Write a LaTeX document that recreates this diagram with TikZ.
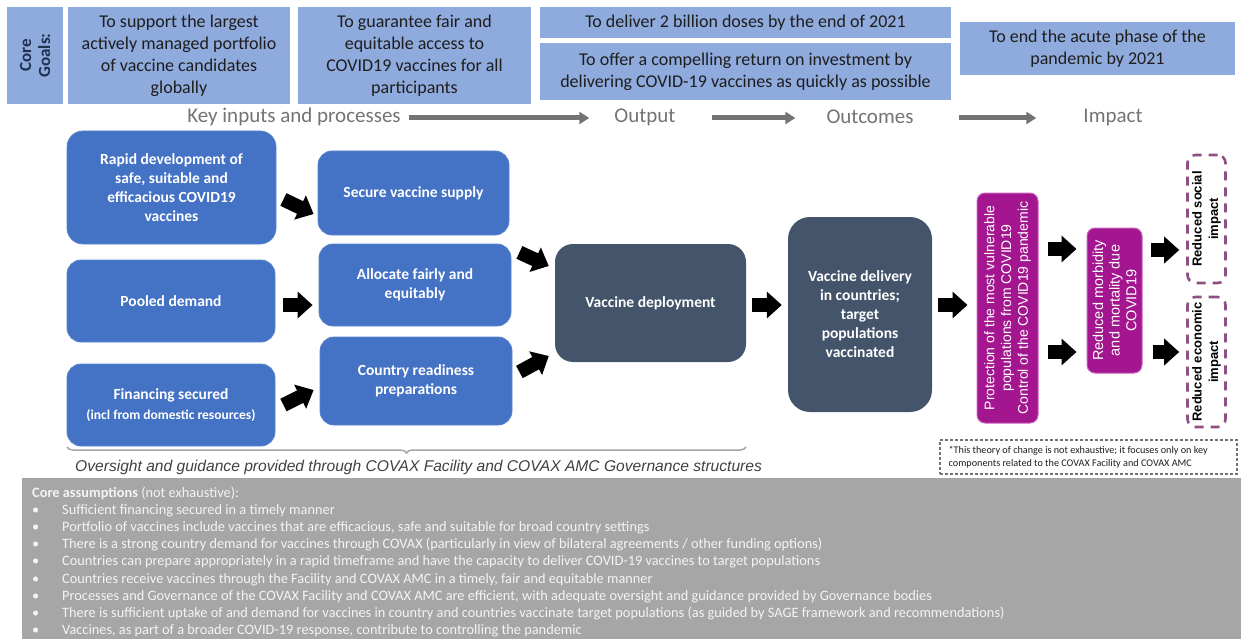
\documentclass[tikz,border=0pt]{standalone}
\usepackage{fontspec}
\setmainfont{Carlito}
\newfontfamily\arialfont{Liberation Sans}
\usetikzlibrary{arrows.meta,decorations.pathreplacing,calc}
\definecolor{goalblue}{HTML}{8FAADC}
\definecolor{boxblue}{HTML}{4472C4}
\definecolor{boxedge}{HTML}{5A84CF}
\definecolor{slate}{HTML}{44546A}
\definecolor{purp}{HTML}{A3168F}
\definecolor{purpedge}{HTML}{C860BC}
\definecolor{dashpurp}{HTML}{8E4F82}
\definecolor{hdrgray}{HTML}{737373}
\definecolor{asmgray}{HTML}{A6A6A6}
\definecolor{asmtext}{HTML}{F4F4F4}
\definecolor{navy}{HTML}{1F2F4F}
\definecolor{goaltext}{HTML}{1E1E1E}
\definecolor{ovtext}{HTML}{404040}
\begin{document}
\begin{tikzpicture}[x=1pt,y=-1pt,
  goal/.style={fill=goalblue, inner sep=0pt, align=center, text=goaltext,
    font=\fontsize{18}{22}\selectfont},
  bluebox/.style={fill=boxblue, draw=boxedge, line width=0.8pt, rounded corners=14pt,
    inner sep=0pt, align=center, text=white, font=\fontsize{15.5}{19}\selectfont\bfseries},
  slatebox/.style={fill=slate, rounded corners=18pt, inner sep=0pt, align=center,
    text=white, font=\fontsize{15.5}{19}\selectfont\bfseries},
  purpbox/.style={fill=purp, draw=purpedge, line width=1pt, rounded corners=8pt, inner sep=0pt},
  purptext/.style={rotate=90, align=center, text=white, inner sep=0pt,
    font=\arialfont\fontsize{14}{16.7}\selectfont},
  impactbox/.style={draw=dashpurp, line width=2.6pt, dash pattern=on 9pt off 7pt,
    rounded corners=8pt, inner sep=0pt},
  impacttext/.style={rotate=90, align=center, text=black, inner sep=0pt,
    font=\arialfont\bfseries\fontsize{13}{16.5}\selectfont},
  blk/.style={line width=14pt, black, -{Triangle[length=15pt,width=26pt]}},
  hdr/.style={font=\fontsize{21}{24}\selectfont, text=hdrgray, inner sep=0pt},
  hdrarrow/.style={line width=5pt, hdrgray, -{Triangle[length=10pt,width=12pt]}},
  asmline/.style={anchor=base west, inner sep=0pt, text=asmtext, font=\fontsize{14.35}{17}\selectfont}
]
\useasboundingbox (0,0) rectangle (1241,639);

% ---------- core goals ----------
\node[goal, minimum width=56pt, minimum height=97pt] (core) at (35,55.5) {};
\node[rotate=90, align=center, inner sep=0pt, text=navy,
  font=\fontsize{17}{19}\selectfont\bfseries] (coretext) at (core.center) {Core\\Goals:};
\node[goal, minimum width=222pt, minimum height=97pt] (g1) at (179,55.5)
  {To support the largest\\actively managed portfolio\\of vaccine candidates\\globally};
\node[goal, minimum width=233pt, minimum height=97pt] (g2) at (414.5,55.5)
  {To guarantee fair and\\equitable access to\\COVID19 vaccines for all\\participants};
\node[goal, minimum width=411pt, minimum height=31pt] (g3a) at (745.5,22.5)
  {To deliver 2 billion doses by the end of 2021};
\node[goal, minimum width=411pt, minimum height=57pt] (g3b) at (745.5,71.5)
  {To offer a compelling return on investment by\\delivering COVID-19 vaccines as quickly as possible};
\node[goal, minimum width=275pt, minimum height=53pt] (g4) at (1097.5,48.5)
  {To end the acute phase of the\\pandemic by 2021};

% ---------- header row ----------
\node[hdr] (hkey) at (294,117) {Key inputs and processes};
\node[hdr] (hout) at (645,117) {Output};
\node[hdr] (hoc) at (870,117) {Outcomes};
\node[hdr] (himp) at (1113,117) {Impact};
\draw[hdrarrow] ([xshift=8pt,yshift=-1pt]hkey.east) -- ([xshift=-25pt,yshift=-1pt]hout.west);
\draw[hdrarrow] ([xshift=36pt,yshift=-1pt]hout.east) -- ([xshift=-31pt,yshift=-1pt]hoc.west);
\draw[hdrarrow] ([xshift=45pt,yshift=-1pt]hoc.east) -- ([xshift=-47pt,yshift=-1pt]himp.west);

% ---------- inputs ----------
\node[bluebox, rounded corners=16pt, minimum width=209pt, minimum height=113pt] (A) at (171.5,187.5)
  {Rapid development of\\safe, suitable and\\efficacious COVID19\\vaccines};
\node[bluebox, minimum width=208pt, minimum height=82pt] (B) at (171,301) {Pooled demand};
\node[bluebox, minimum width=208pt, minimum height=82pt] (C) at (171,405)
  {Financing secured\\[1pt]{\fontsize{13.5}{17}\selectfont (incl from domestic resources)}};

% ---------- processes ----------
\node[bluebox, minimum width=191pt, minimum height=84pt] (D) at (413.5,193) {Secure vaccine supply};
\node[bluebox, minimum width=192pt, minimum height=82pt] (E) at (415,285) {Allocate fairly and\\equitably};
\node[bluebox, minimum width=192pt, minimum height=88pt] (F) at (416,381) {Country readiness\\preparations};

% ---------- output / outcomes ----------
\node[slatebox, minimum width=191pt, minimum height=118pt] (G) at (650.5,303) {Vaccine deployment};
\node[slatebox, rounded corners=22pt, minimum width=144pt, minimum height=195pt] (H) at (860,314.5)
  {Vaccine delivery\\in countries;\\target\\populations\\vaccinated};
\node[purpbox, minimum width=61pt, minimum height=230pt] (I) at (1007.5,308) {};
\node[purptext] (Itext) at (I.center)
  {Protection of the most vulnerable\\populations from COVID19\\Control of the COVID19 pandemic};
\node[purpbox, minimum width=55pt, minimum height=145pt] (J) at (1114.5,300.5) {};
\node[purptext, font=\arialfont\fontsize{14.5}{16.7}\selectfont] (Jtext) at (J.center)
  {Reduced morbidity\\and mortality due\\COVID19};

% ---------- impact ----------
\node[impactbox, minimum width=38pt, minimum height=128pt] (K1) at (1206.5,219) {};
\node[impacttext] (K1text) at (K1.center) {Reduced social\\impact};
\node[impactbox, minimum width=38pt, minimum height=130pt] (K2) at (1206.5,362) {};
\node[impacttext] (K2text) at (K2.center) {Reduced economic\\impact};

% ---------- block arrows ----------
\draw[blk] ([shift={(7,12)}]A.east) -- ([shift={(-4,21)}]D.west);
\draw[blk] ([shift={(8,4)}]B.east) -- ([shift={(-6,20)}]E.west);
\draw[blk] ([shift={(8,0)}]C.east) -- ([shift={(-6,9)}]F.west);
\draw[blk] ([shift={(10,17)}]D.south east) -- ([shift={(-6,-37)}]G.west);
\draw[blk] ([shift={(7,-9)}]F.east) -- ([shift={(-6,53)}]G.west);
\draw[blk] ([shift={(6,2)}]G.east) -- ([shift={(-6,-9.5)}]H.west);
\draw[blk] ([shift={(6,-9.5)}]H.east) -- ([shift={(-9,-3)}]I.west);
\draw[blk] ([shift={(9,-59)}]I.east) -- ([shift={(-10,-51.5)}]J.west);
\draw[blk] ([shift={(9,44)}]I.east) -- ([shift={(-10,51.5)}]J.west);
\draw[blk] ([shift={(8,-50.5)}]J.east) -- ([shift={(-7,31)}]K1.west);
\draw[blk] ([shift={(10,51.5)}]J.east) -- ([shift={(-7,-10)}]K2.west);

% ---------- oversight brace ----------
\coordinate (brl) at (67,447);
\coordinate (brr) at (746,447);
\draw[decorate, decoration={brace, amplitude=6pt, mirror}, draw=asmgray, line width=1.5pt] (brl) -- (brr);
\node[inner sep=0pt, anchor=west, text=ovtext, font=\arialfont\itshape\fontsize{15.6}{18}\selectfont]
  (oversight) at (75,467) {Oversight and guidance provided through COVAX Facility and COVAX AMC Governance structures};

% ---------- note ----------
\node[draw=hdrgray, dash pattern=on 3pt off 2pt, line width=1.1pt, minimum width=297pt, minimum height=34pt,
  inner sep=0pt] (note) at (1088.5,457) {};
\node[anchor=west, inner sep=0pt, align=left, text=goaltext, font=\fontsize{10.2}{13}\selectfont]
  (notetext) at ([xshift=9pt]note.west)
  {*This theory of change is not exhaustive; it focuses only on key\\components related to the COVAX Facility and COVAX AMC};

% ---------- assumptions ----------
\fill[asmgray] (22,478) rectangle (1241,639);
\node[asmline] (a0) at (32,497) {\textbf{Core assumptions} (not exhaustive):};
\node[asmline] (a1) at (32,514.2) {\makebox[30pt][l]{•}Sufficient financing secured in a timely manner};
\node[asmline] (a2) at (32,531.4) {\makebox[30pt][l]{•}Portfolio of vaccines include vaccines that are efficacious, safe and suitable for broad country settings};
\node[asmline] (a3) at (32,548.6) {\makebox[30pt][l]{•}There is a strong country demand for vaccines through COVAX (particularly in view of bilateral agreements / other funding options)};
\node[asmline] (a4) at (32,565.8) {\makebox[30pt][l]{•}Countries can prepare appropriately in a rapid timeframe and have the capacity to deliver COVID-19 vaccines to target populations};
\node[asmline] (a5) at (32,583) {\makebox[30pt][l]{•}Countries receive vaccines through the Facility and COVAX AMC in a timely, fair and equitable manner};
\node[asmline] (a6) at (32,600.2) {\makebox[30pt][l]{•}Processes and Governance of the COVAX Facility and COVAX AMC are efficient, with adequate oversight and guidance provided by Governance bodies};
\node[asmline] (a7) at (32,617.4) {\makebox[30pt][l]{•}There is sufficient uptake of and demand for vaccines in country and countries vaccinate target populations (as guided by SAGE framework and recommendations)};
\node[asmline] (a8) at (32,634.6) {\makebox[30pt][l]{•}Vaccines, as part of a broader COVID-19 response, contribute to controlling the pandemic};
\end{tikzpicture}
\end{document}
